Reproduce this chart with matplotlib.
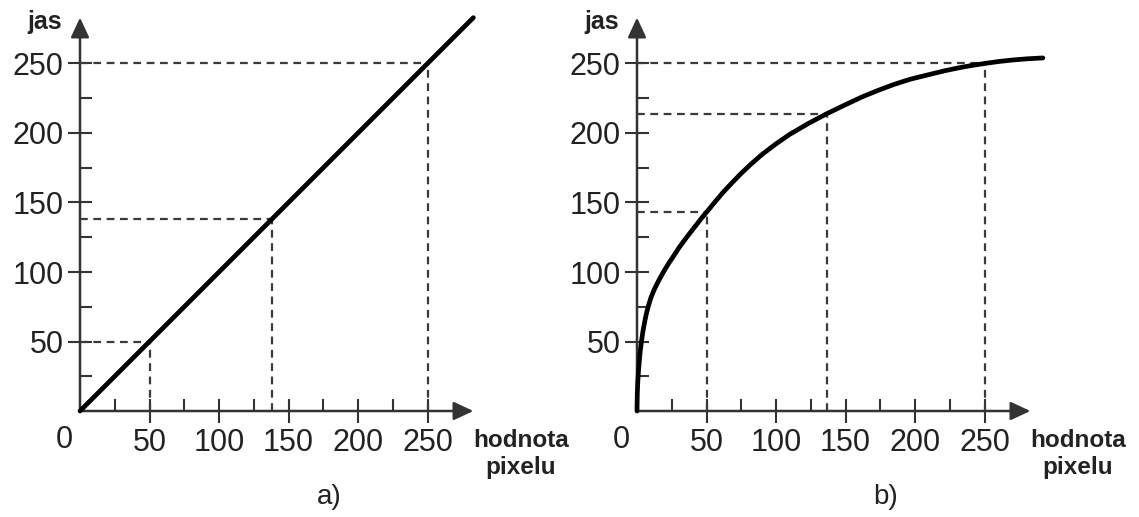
import numpy as np
import matplotlib
matplotlib.use("Agg")
import matplotlib.pyplot as plt

plt.rcParams['font.family'] = ['Liberation Sans', 'DejaVu Sans']

# axis ticks (same for both panels)
major_ticks = [50, 100, 150, 200, 250]
minor_ticks = [25, 75, 125, 175, 225]
tick_labels = ['50', '100', '150', '200', '250']

# a) linear mapping
lin_x = [0, 283]
lin_y = [0, 283]
lin_marks_x = [50, 138, 250]
lin_marks_y = [50, 138, 250]

# b) non-linear mapping
curve_x = [0, 0.1, 0.2, 0.45, 0.8, 1.25, 1.8, 2.45, 3.2, 4.15, 5.2, 6.5, 8,
           10.1, 12.5, 15.5, 19, 22.4, 26, 30.3, 35, 39, 43, 46.5, 50,
           56, 62, 68.5, 75, 82, 90, 100, 110, 123, 136, 149, 162, 173, 185,
           197, 210, 221, 232, 241, 250, 260, 270, 281, 292]
curve_y = [0, 6, 12, 18.5, 25, 31, 37.5, 44, 50, 56.5, 62.5, 69, 75,
           81.8, 87.6, 93.6, 100, 105.6, 111, 117.6, 124, 129.2, 134.3, 138.8,
           143, 150.3, 157.4, 164.3, 171, 177.6, 184.6, 192.2, 199.1, 206.7,
           213.6, 219.9, 226, 230.5, 235, 238.8, 242, 244.7, 247, 248.6, 250,
           251.4, 252.5, 253.4, 254]
curve_marks_x = [50, 137, 250]
curve_marks_y = [143, 214, 250]

AX_END = 283
AXIS_COL = '#333333'
DASH_COL = '#3a3a3a'
TXT_COL = '#222222'


def draw_panel(ax, xs, ys, marks_x, marks_y, caption):
    ax.set_xlim(0, 300)
    ax.set_ylim(0, 290)
    for s in ax.spines.values():
        s.set_visible(False)
    ax.patch.set_visible(False)

    ax.set_xticks(major_ticks, tick_labels)
    ax.set_yticks(major_ticks, tick_labels)
    ax.set_xticks(minor_ticks, minor=True)
    ax.set_yticks(minor_ticks, minor=True)
    ax.tick_params(which='major', direction='inout', length=16.8, width=1.5,
                   color=AXIS_COL, labelsize=22, labelcolor=TXT_COL, pad=3.5)
    ax.tick_params(which='minor', direction='in', length=8.4, width=1.5,
                   color=AXIS_COL)

    arrow = dict(arrowstyle='-|>,head_length=0.6,head_width=0.28',
                 mutation_scale=20, lw=1.8, color=AXIS_COL,
                 shrinkA=0, shrinkB=0)
    ax.annotate('', xy=(AX_END, 0), xytext=(0, 0), arrowprops=arrow,
                annotation_clip=False)
    ax.annotate('', xy=(0, AX_END), xytext=(0, 0), arrowprops=arrow,
                annotation_clip=False)

    for mx, my in zip(marks_x, marks_y):
        ax.plot([0, mx], [my, my], color=DASH_COL, lw=1.6,
                dashes=(3.5, 2.5), clip_on=False, zorder=3)
        ax.plot([mx, mx], [0, my], color=DASH_COL, lw=1.6,
                dashes=(3.5, 2.5), clip_on=False, zorder=3)

    ax.plot(xs, ys, color='black', lw=3.4, solid_capstyle='round',
            solid_joinstyle='round', clip_on=False, zorder=5)

    ax.text(-11, -21, '0', fontsize=22, color=TXT_COL, ha='center',
            va='center', clip_on=False)
    ax.text(-13, 280, 'jas', fontsize=18, fontweight='bold', color=TXT_COL,
            ha='right', va='center', clip_on=False)
    ax.text(317, -31, 'hodnota\npixelu', fontsize=17.5, fontweight='bold',
            color=TXT_COL, ha='center', va='center', linespacing=1.25,
            clip_on=False)
    ax.text(179, -62, caption, fontsize=20, color=TXT_COL, ha='center',
            va='center', clip_on=False)


fig = plt.figure(figsize=(11.39, 5.17), dpi=100)
W, H = 1139, 517
scale = 1.39
ax1 = fig.add_axes([80 / W, (H - 411) / H, 300 * scale / W, 290 * scale / H])
ax2 = fig.add_axes([637 / W, (H - 411) / H, 300 * scale / W, 290 * scale / H])

draw_panel(ax1, lin_x, lin_y, lin_marks_x, lin_marks_y, 'a)')
draw_panel(ax2, curve_x, curve_y, curve_marks_x, curve_marks_y, 'b)')

fig.savefig('out.png', dpi=100)
